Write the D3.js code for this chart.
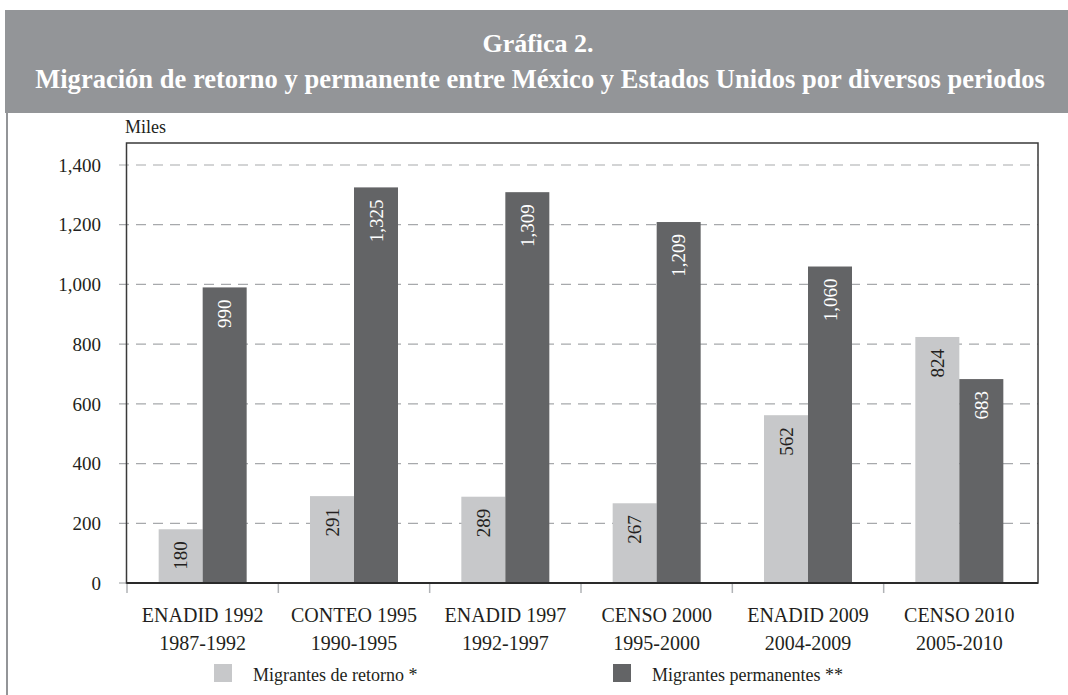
<!DOCTYPE html>
<html>
<head>
<meta charset="utf-8">
<script src="https://cdnjs.cloudflare.com/ajax/libs/d3/7.8.5/d3.min.js"></script>
<style>
  body { margin: 0; background: #fff; }
  text { font-family: "Liberation Serif", "DejaVu Serif", serif; fill: #231f20; }
</style>
</head>
<body>
<svg width="1068" height="695"></svg>
<script>
// data (miles)
var surveys = ["ENADID 1992", "CONTEO 1995", "ENADID 1997", "CENSO 2000", "ENADID 2009", "CENSO 2010"];
var periods = ["1987-1992", "1990-1995", "1992-1997", "1995-2000", "2004-2009", "2005-2010"];
var retorno = [180, 291, 289, 267, 562, 824];
var permanentes = [990, 1325, 1309, 1209, 1060, 683];
var yTicks = [0, 200, 400, 600, 800, 1000, 1200, 1400];

var svg = d3.select("svg");
var lightCol = "#c7c8ca", darkCol = "#636466", bandCol = "#939598";

// header band
svg.append("rect").attr("x", 5).attr("y", 10).attr("width", 1063).attr("height", 103).attr("fill", bandCol);
svg.append("line").attr("x1", 7).attr("x2", 7).attr("y1", 113).attr("y2", 695)
    .attr("stroke", bandCol).attr("stroke-width", 2);

svg.append("text").attr("x", 538).attr("y", 52).attr("text-anchor", "middle")
    .attr("font-size", 26).attr("font-weight", "bold").style("fill", "#fff")
    .text("Gráfica 2.");
var t2 = svg.append("text").attr("x", 540).attr("y", 88).attr("text-anchor", "middle")
    .attr("font-size", 25).attr("font-weight", "bold").style("fill", "#fff")
    .text("Migración de retorno y permanente entre México y Estados Unidos por diversos periodos");
// fit the long title line to the width it has in the original
var w = t2.node().getComputedTextLength();
t2.attr("font-size", 25 * 1010 / w);

// scales
var y = d3.scaleLinear().domain([0, 1400]).range([583, 165]);
var x = d3.scaleBand().domain(surveys).range([127, 1035]);
var boxL = 126.5, boxR = 1038, boxT = 143, boxB = 583;

// gridlines + y labels
var g = svg.append("g");
g.selectAll("line.grid").data(yTicks).enter().append("line")
    .attr("class", "grid")
    .attr("x1", 119).attr("x2", d => d == 0 ? boxL : boxR)
    .attr("y1", d => y(d)).attr("y2", d => y(d))
    .attr("stroke", "#a7a9ac").attr("stroke-width", 1.2)
    .attr("stroke-dasharray", "10,7");
g.selectAll("text.ylab").data(yTicks).enter().append("text")
    .attr("class", "ylab")
    .attr("x", 101).attr("y", d => y(d)).attr("dy", "0.35em")
    .attr("text-anchor", "end").attr("font-size", 19)
    .text(d => d3.format(",")(d));

svg.append("text").attr("x", 125).attr("y", 133).attr("font-size", 18).text("Miles");

// bars
var bw = 44;
var groups = svg.append("g").selectAll("g").data(surveys).enter().append("g")
    .attr("transform", d => "translate(" + (x(d) + x.bandwidth() / 2) + ",0)");

groups.append("rect").attr("x", -bw).attr("width", bw)
    .attr("y", (d, i) => y(retorno[i])).attr("height", (d, i) => y(0) - y(retorno[i]))
    .attr("fill", lightCol);
groups.append("rect").attr("x", 0).attr("width", bw)
    .attr("y", (d, i) => y(permanentes[i])).attr("height", (d, i) => y(0) - y(permanentes[i]))
    .attr("fill", darkCol);

// value labels, rotated
groups.append("text")
    .attr("transform", (d, i) => "translate(" + (-bw / 2) + "," + (y(retorno[i]) + 12) + ") rotate(-90)")
    .attr("dy", "0.35em").attr("text-anchor", "end").attr("font-size", 19)
    .text((d, i) => d3.format(",")(retorno[i]));
groups.append("text")
    .attr("transform", (d, i) => "translate(" + (bw / 2) + "," + (y(permanentes[i]) + 12) + ") rotate(-90)")
    .attr("dy", "0.35em").attr("text-anchor", "end").attr("font-size", 19)
    .style("fill", "#fff")
    .text((d, i) => d3.format(",")(permanentes[i]));

// plot frame
svg.append("rect").attr("x", boxL).attr("y", boxT).attr("width", boxR - boxL).attr("height", boxB - boxT)
    .attr("fill", "none").attr("stroke", "#3a3a3a").attr("stroke-width", 1.5);
svg.append("line").attr("x1", boxL).attr("x2", boxR).attr("y1", boxB).attr("y2", boxB)
    .attr("stroke", "#2a2a2a").attr("stroke-width", 2);

// x ticks and category labels
svg.append("g").selectAll("line").data(surveys).enter().append("line")
    .attr("x1", d => x(d)).attr("x2", d => x(d))
    .attr("y1", boxB + 1).attr("y2", boxB + 10)
    .attr("stroke", "#b1b3b6").attr("stroke-width", 1.5);

var cl = svg.append("g").selectAll("g").data(surveys).enter().append("g")
    .attr("transform", d => "translate(" + (x(d) + x.bandwidth() / 2) + ",0)");
cl.append("text").attr("y", 622).attr("text-anchor", "middle").attr("font-size", 20)
    .text(d => d);
cl.append("text").attr("y", 650).attr("text-anchor", "middle").attr("font-size", 20)
    .text((d, i) => periods[i]);

// legend
var legend = [
    { label: "Migrantes de retorno *", color: lightCol, x: 214 },
    { label: "Migrantes permanentes **", color: darkCol, x: 613 }
];
var lg = svg.append("g").selectAll("g").data(legend).enter().append("g")
    .attr("transform", d => "translate(" + d.x + ",664)");
lg.append("rect").attr("width", 18).attr("height", 18).attr("fill", d => d.color);
lg.append("text").attr("x", 39).attr("y", 17).attr("font-size", 18).text(d => d.label);
</script>
</body>
</html>
